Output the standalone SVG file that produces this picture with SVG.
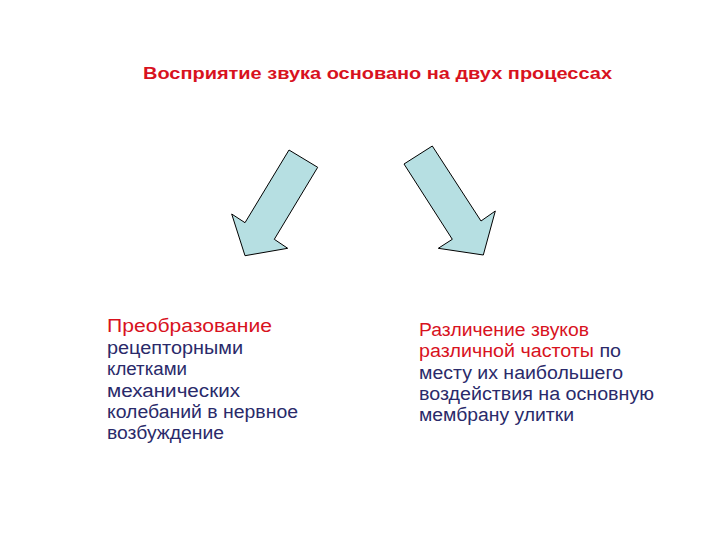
<svg xmlns="http://www.w3.org/2000/svg" width="720" height="540" viewBox="0 0 720 540">
<style>
.t{font-family:"Liberation Sans",Arial,sans-serif;}
.title{font-size:17px;font-weight:bold;fill:#d8121e;}
.red{fill:#d8121e;}
.navy{fill:#2a2a6a;}
.body{font-size:18px;}
.arrow{fill:#b6dfe2;stroke:#000;stroke-width:1;stroke-linejoin:miter;}
</style>
<rect width="720" height="540" fill="#fff"/>
<g id="title">
<text class="t title" x="143" y="79" textLength="469" lengthAdjust="spacingAndGlyphs">Восприятие звука основано на двух процессах</text>
</g>
<g id="connectors">
<polygon class="arrow" points="289,150 317.7,167.3 274.3,239.3 287.7,248.3 245,255.7 231.7,214 245,222.7"/>
<polygon class="arrow" points="432.3,146 404,164 452.3,239.3 438.3,248.3 483.3,255 495.3,211 481,221"/>
</g>
<g id="left-node">
<text class="t body red" x="107" y="332" textLength="165" lengthAdjust="spacingAndGlyphs">Преобразование</text>
<text class="t body navy" x="107" y="354" textLength="136" lengthAdjust="spacingAndGlyphs">рецепторными</text>
<text class="t body navy" x="107" y="375" textLength="80" lengthAdjust="spacingAndGlyphs">клетками</text>
<text class="t body navy" x="107" y="397" textLength="133" lengthAdjust="spacingAndGlyphs">механических</text>
<text class="t body navy" x="107" y="418" textLength="191" lengthAdjust="spacingAndGlyphs">колебаний в нервное</text>
<text class="t body navy" x="107" y="439" textLength="117" lengthAdjust="spacingAndGlyphs">возбуждение</text>
</g>
<g id="right-node">
<text class="t body red" x="419" y="336" textLength="170" lengthAdjust="spacingAndGlyphs">Различение звуков</text>
<text class="t body" x="419" y="357" textLength="202" lengthAdjust="spacingAndGlyphs"><tspan class="red">различной частоты</tspan><tspan class="navy"> по</tspan></text>
<text class="t body navy" x="419" y="379" textLength="204" lengthAdjust="spacingAndGlyphs">месту их наибольшего</text>
<text class="t body navy" x="419" y="400" textLength="235" lengthAdjust="spacingAndGlyphs">воздействия на основную</text>
<text class="t body navy" x="419" y="421" textLength="155" lengthAdjust="spacingAndGlyphs">мембрану улитки</text>
</g>
</svg>
